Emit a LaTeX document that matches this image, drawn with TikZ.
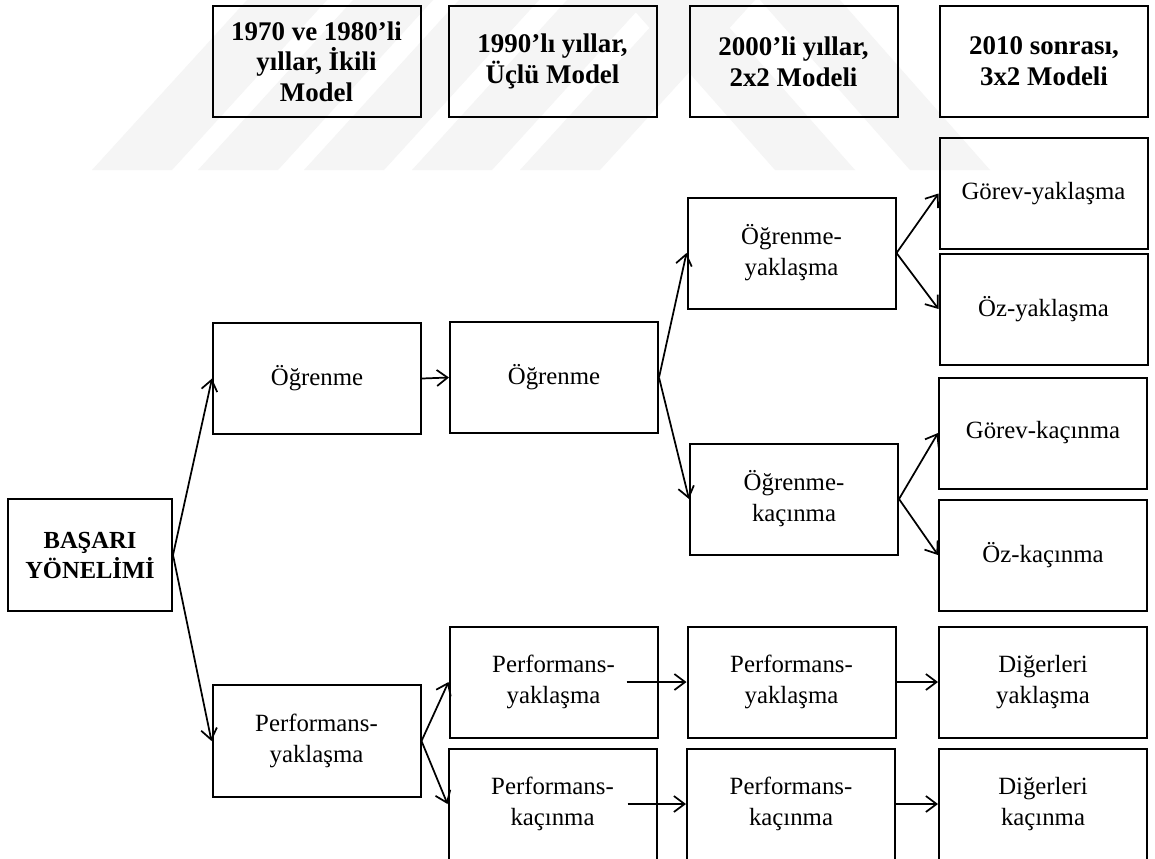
\documentclass[tikz,border=0pt]{standalone}
\usepackage{fontspec}
\setmainfont{Liberation Serif}
\usetikzlibrary{arrows.meta}
\begin{document}
\begin{tikzpicture}[x=0.75pt,y=-0.75pt,
  box/.style={draw, line width=1.5pt, minimum width=156pt, minimum height=83.25pt, inner sep=0pt, align=center, font=\fontsize{18.6}{23.3}\selectfont},
  hbox/.style={box, font=\fontsize{20.2}{23}\selectfont\bfseries},
  conn/.style={-{Straight Barb[length=8pt,width=12pt]}, line width=1.3pt},
  wm/.style={fill=black!4, draw=none}]
\useasboundingbox (0,0) rectangle (1155,858);
\clip (0,0) rectangle (1155,858);
\fill[white] (0,0) rectangle (1155,858);
% watermark
\foreach \a in {92,198,304,412,520}{
  \fill[wm] (\a,170) -- (\a+80,170) -- (\a+235,0) -- (\a+155,0) -- cycle;
}
\foreach \a in {625,760}{
  \fill[wm] (\a,0) -- (\a+80,0) -- (\a+230,170) -- (\a+150,170) -- cycle;
}
% headers
\node[hbox] (h1) at (316.5,61.5) {1970 ve 1980’li\\yıllar, İkili\\Model};
\node[hbox] (h2) at (552.5,61.5) {1990’lı yıllar,\\Üçlü Model};
\node[hbox] (h3) at (793.5,61.5) {2000’li yıllar,\\2x2 Modeli};
\node[hbox] (h4) at (1044,61.5) {2010 sonrası,\\3x2 Modeli};
% root
\node[box, font=\fontsize{18.4}{22.5}\selectfont\bfseries, minimum width=123pt, minimum height=84pt] (bas) at (90,555) {BAŞARI\\YÖNELİMİ};
% column 1
\node[box] (o1) at (317,378.5) {Öğrenme};
\node[box, minimum height=84pt] (pa1) at (316.5,741) {Performans-\\yaklaşma};
% column 2
\node[box] (o2) at (554,377.5) {Öğrenme};
\node[box] (py2) at (553.5,682) {Performans-\\yaklaşma};
\node[box] (pk2) at (552.5,804) {Performans-\\kaçınma};
% column 3
\node[box] (oy3) at (791.5,253) {Öğrenme-\\yaklaşma};
\node[box] (ok3) at (794,499) {Öğrenme-\\kaçınma};
\node[box] (py3) at (791.5,682) {Performans-\\yaklaşma};
\node[box] (pk3) at (791,804) {Performans-\\kaçınma};
% column 4
\node[box] (gy4) at (1043.5,193.5) {Görev-yaklaşma};
\node[box] (oy4) at (1043.5,309) {Öz-yaklaşma};
\node[box] (gk4) at (1043,433) {Görev-kaçınma};
\node[box] (ok4) at (1043,555) {Öz-kaçınma};
\node[box] (dy4) at (1043,682) {Diğerleri\\yaklaşma};
\node[box] (dk4) at (1043,804) {Diğerleri\\kaçınma};
% connectors
\draw[conn] (bas.east) -- (o1.west);
\draw[conn] (bas.east) -- (pa1.west);
\draw[conn] (o1.east) -- (o2.west);
\draw[conn] (o2.east) -- (oy3.west);
\draw[conn] (o2.east) -- (ok3.west);
\draw[conn] (oy3.east) -- (gy4.west);
\draw[conn] (oy3.east) -- (oy4.west);
\draw[conn] (ok3.east) -- (gk4.west);
\draw[conn] (ok3.east) -- (ok4.west);
\draw[conn] (pa1.east) -- (py2.west);
\draw[conn] (pa1.east) -- (pk2.west);
\draw[conn] ([xshift=-24pt]py2.east) -- (py3.west);
\draw[conn] ([xshift=-22.5pt]pk2.east) -- (pk3.west);
\draw[conn] (py3.east) -- (dy4.west);
\draw[conn] (pk3.east) -- (dk4.west);
\end{tikzpicture}
\end{document}
